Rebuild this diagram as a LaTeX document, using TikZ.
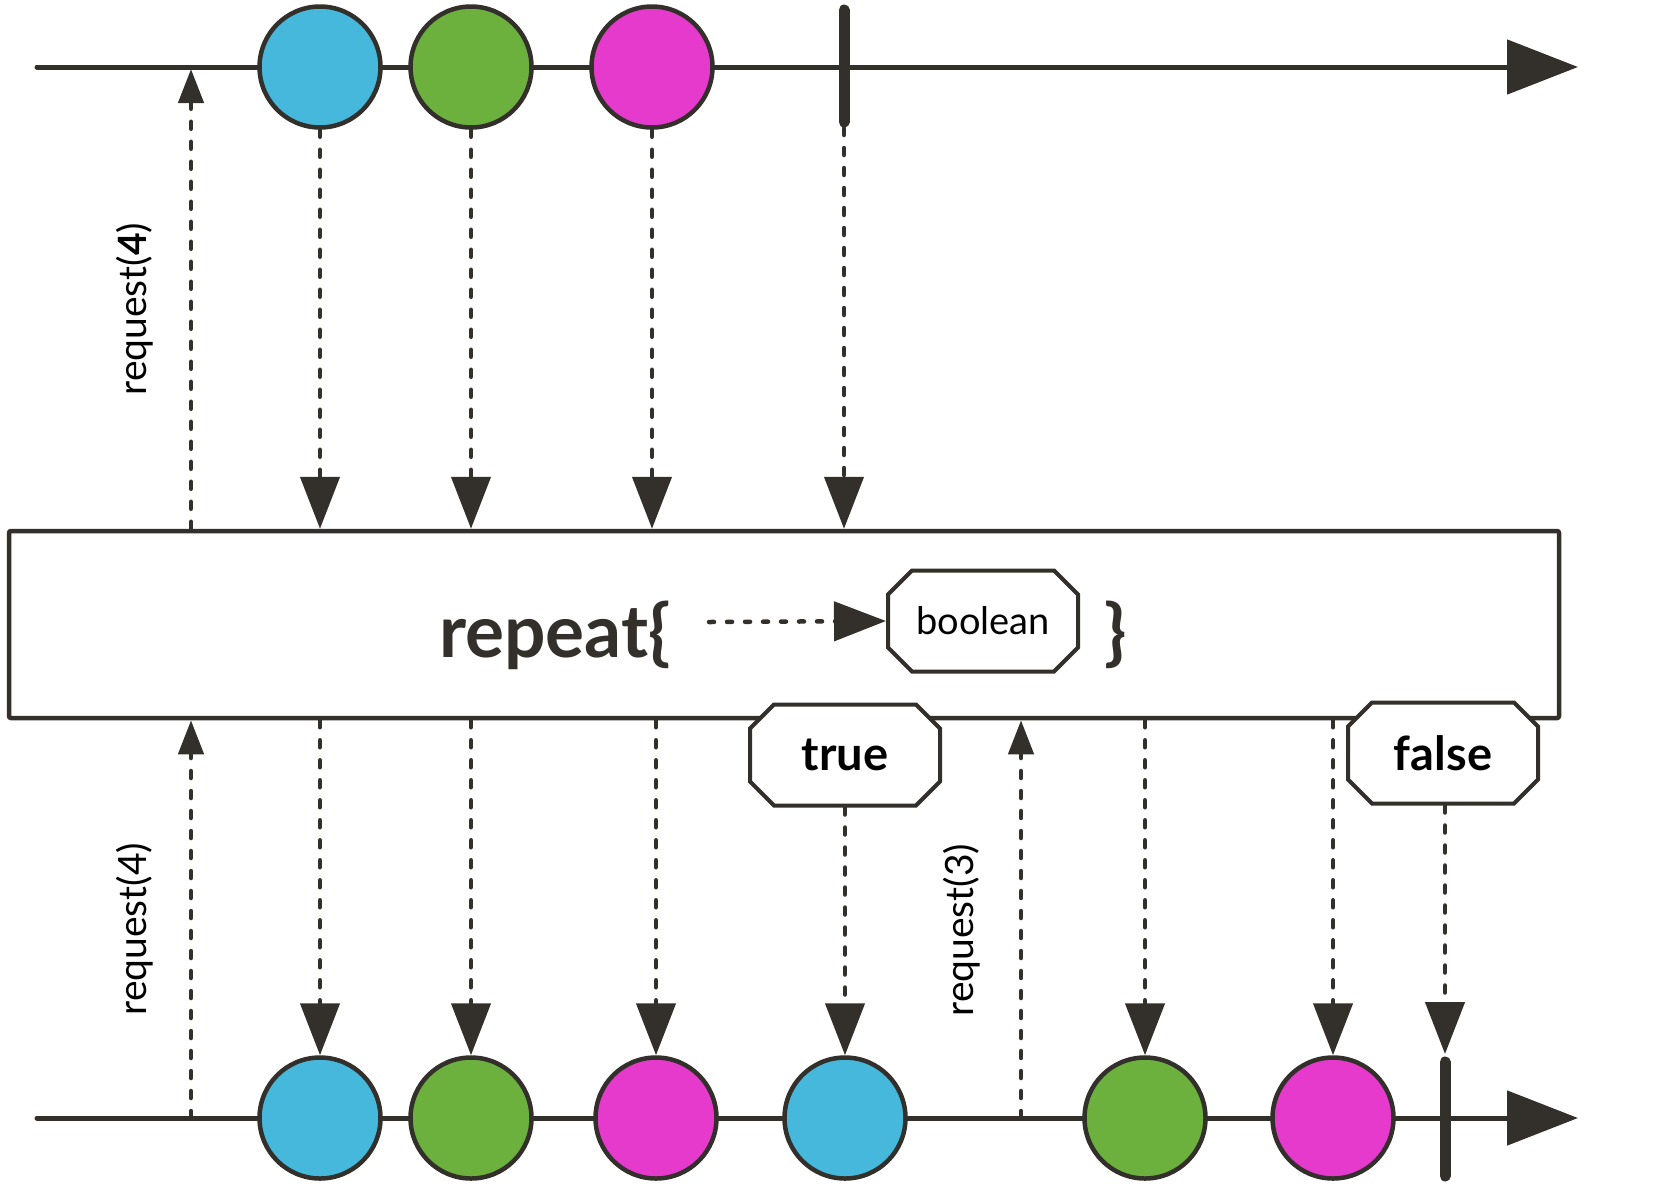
\documentclass[tikz,border=0pt]{standalone}
\usepackage{fontspec}
\setmainfont{Lato}
\definecolor{ink}{RGB}{51, 48, 43}
\definecolor{itemblue}{RGB}{69, 184, 220}
\definecolor{itemgreen}{RGB}{108, 176, 62}
\definecolor{itempink}{RGB}{229, 58, 204}
\usetikzlibrary{shapes.misc, arrows.meta, positioning, calc}
\newcommand{\opfont}{\fontsize{73pt}{76pt}\selectfont\bfseries}
\newcommand{\predfont}{\fontsize{38pt}{41pt}\selectfont}
\newcommand{\answerfont}{\fontsize{47pt}{50pt}\selectfont\bfseries}
\newcommand{\requestfont}{\fontsize{39pt}{42pt}\selectfont}
\tikzset{
  timeline/.style={draw=ink, line width=5pt, line cap=round, -{Triangle[length=71pt, width=54pt]}},
  marble/.style={circle, draw=ink, line width=4.5pt, minimum size=121pt, inner sep=0pt},
  flow/.style={draw=ink, line width=4.5pt, line cap=round, dash pattern=on 7pt off 13pt, -{Triangle[length=52pt, width=39pt]}},
  reqflow/.style={flow, -{Triangle[length=34pt, width=25pt]}},
  donetick/.style={draw=ink, line width=11pt, line cap=round},
  tagbox/.style={chamfered rectangle, chamfered rectangle xsep=12pt, chamfered rectangle ysep=12pt, draw=ink, fill=white, line width=4pt, minimum width=190pt, minimum height=101pt, inner sep=0pt}
}

\begin{document}
\begin{tikzpicture}[x=1pt, y=-1pt]
  \useasboundingbox (0,0) rectangle (1662,1187);

  % Source line
  \coordinate (srcstart) at (37,67);
  \coordinate (srcend) at (1578,67);
  \coordinate (srcreq) at (191,67);
  \coordinate (srcdone) at (844,66);
  \draw[timeline] (srcstart) -- (srcend);
  \node[marble, fill=itemblue] (src1) at (320,67) {};
  \node[marble, fill=itemgreen] (src2) at (471,67) {};
  \node[marble, fill=itempink] (src3) at (652,67) {};
  \draw[donetick] ($(srcdone)+(0,-56)$) -- ($(srcdone)+(0,56)$);

  % Operator box
  \node[draw=ink, fill=white, line width=4.5pt, rounded corners=2pt, minimum width=1550pt, minimum height=187pt] (repeatbox) at (784,624.5) {};
  \node[font=\opfont, text=ink, anchor=base] (oplabel) at (555,657) {repeat\{};
  \node[tagbox, font=\predfont] (predbox) at (983,621) {boolean};
  \node[font=\opfont, text=ink, anchor=base] (closebrace) at (1116,657) {\}};
  \coordinate (predstart) at (709,622);
  \draw[flow, dash pattern=on 5pt off 13pt] (predstart) -- (predbox.west);

  % Upstream: items down, request up
  \foreach \n in {src1, src2, src3}
    \draw[flow] (\n.south) -- (\n.south |- repeatbox.north);
  \draw[flow] ($(srcdone)+(0,62)$) -- (srcdone |- repeatbox.north);
  \draw[reqflow, shorten >=2pt] (srcreq |- repeatbox.north) -- (srcreq);
  \node[rotate=90, font=\requestfont] (reqlabel1) at (135,309) {request(\textbf{4})};

  % Output line
  \coordinate (outstart) at (37,1118);
  \coordinate (outend) at (1578,1118);
  \coordinate (outreq1) at (191,1118);
  \coordinate (outreq2) at (1021,1118);
  \coordinate (outdone) at (1445,1119);
  \draw[timeline] (outstart) -- (outend);
  \node[marble, fill=itemblue] (out1) at (320,1118) {};
  \node[marble, fill=itemgreen] (out2) at (471,1118) {};
  \node[marble, fill=itempink] (out3) at (656,1118) {};
  \node[marble, fill=itemblue] (out4) at (845,1118) {};
  \node[marble, fill=itemgreen] (out5) at (1145,1118) {};
  \node[marble, fill=itempink] (out6) at (1333,1118) {};
  \draw[donetick] ($(outdone)+(0,-57)$) -- ($(outdone)+(0,57)$);

  % Predicate results
  \node[tagbox, font=\answerfont] (truetag) at (845,755) {true};
  \node[tagbox, font=\answerfont] (falsetag) at (1443,753) {false};

  % Downstream: items down, requests up
  \foreach \n in {out1, out2, out3, out5, out6}
    \draw[flow] (repeatbox.south -| \n.north) -- (\n.north);
  \draw[flow] (truetag.south) -- (out4.north);
  \draw[flow] (falsetag.south -| outdone) -- ($(outdone)+(0,-65)$);
  \draw[reqflow] (outreq1) -- (outreq1 |- repeatbox.south);
  \draw[reqflow] (outreq2) -- (outreq2 |- repeatbox.south);
  \node[rotate=90, font=\requestfont] (reqlabel2) at (135,929) {request(4)};
  \node[rotate=90, font=\requestfont] (reqlabel3) at (962,930) {request(3)};
\end{tikzpicture}
\end{document}
